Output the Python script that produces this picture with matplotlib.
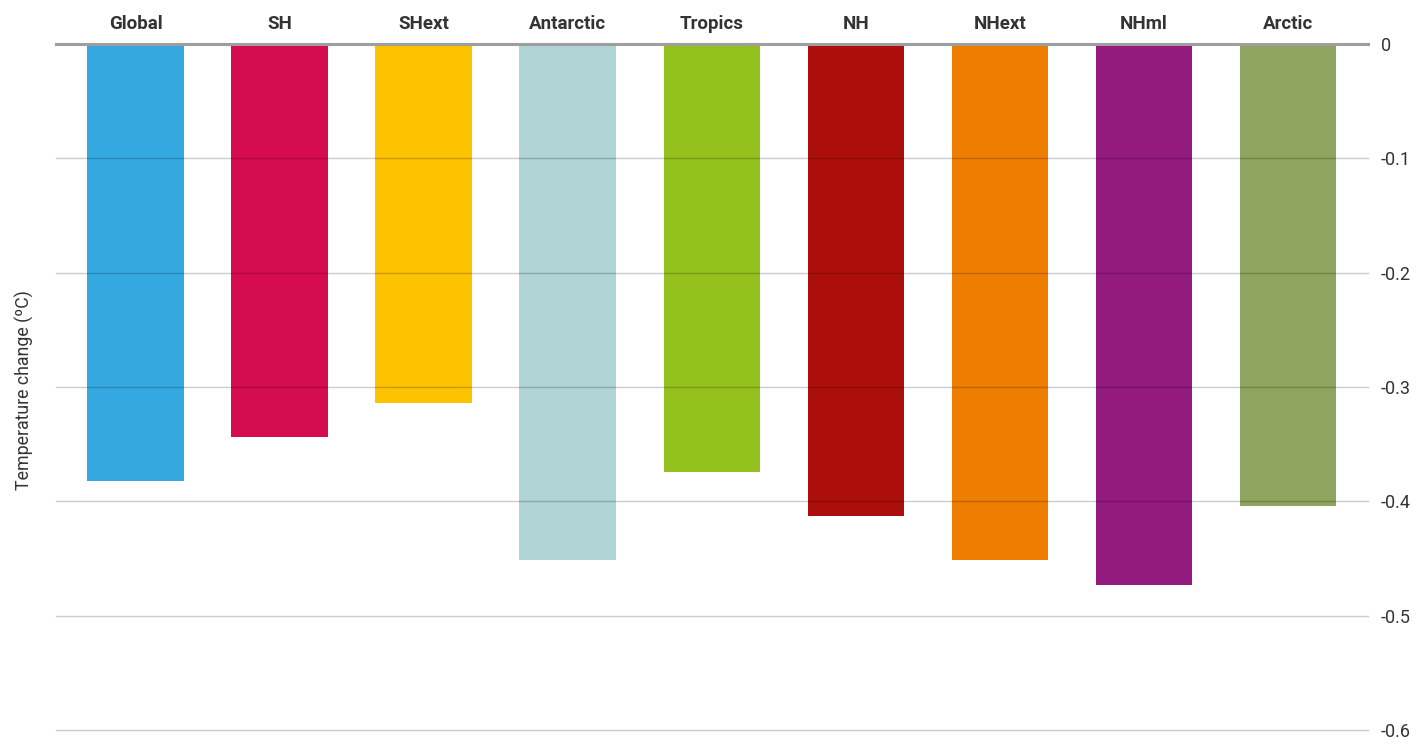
import matplotlib
matplotlib.use("Agg")
import matplotlib.pyplot as plt

categories = ["Global", "SH", "SHext", "Antarctic", "Tropics", "NH", "NHext", "NHml", "Arctic"]
values = [-0.382, -0.344, -0.314, -0.451, -0.374, -0.413, -0.451, -0.473, -0.404]
colors = ["#35A8E0", "#D60C51", "#FDC300", "#B1D4D6", "#95C11F", "#AC0F0B", "#EF7D00", "#931A7E", "#8FA45F"]
yticks = [0, -0.1, -0.2, -0.3, -0.4, -0.5, -0.6]
ytick_labels = ["0", "-0.1", "-0.2", "-0.3", "-0.4", "-0.5", "-0.6"]

plt.rcParams['font.family'] = ['Roboto', 'DejaVu Sans']

fig = plt.figure(figsize=(14.22, 7.45), dpi=100)
ax = fig.add_axes([56/1422, 1-730/745, (1368-56)/1422, (730-44)/745])

x = list(range(len(categories)))
ax.bar(x, values, width=0.67, color=colors, zorder=1)

ax.set_xlim(-0.552, 8.555)
ax.set_ylim(-0.6, 0)
for t in yticks:
    if t == 0:
        ax.axhline(t, color="#9e9e9e", lw=2.2, zorder=3, clip_on=False)
    else:
        ax.axhline(t, color="black", alpha=0.2, lw=1.0, zorder=3, clip_on=False)

ax.set_yticks(yticks)
ax.set_yticklabels(ytick_labels)
ax.yaxis.tick_right()
ax.tick_params(axis='y', length=0, pad=9, labelsize=13, labelcolor="#333333")

ax.xaxis.tick_top()
ax.set_xticks(x)
ax.set_xticklabels(categories, fontweight='bold')
ax.tick_params(axis='x', length=0, pad=8, labelsize=13.5, labelcolor="#333333")

for s in ax.spines.values():
    s.set_visible(False)

fig.text(24/1422, 1-390/745, "Temperature change (ºC)", rotation=90, va='center', ha='center',
         fontsize=12.8, color="#333333")

fig.savefig("out.png", dpi=100)
